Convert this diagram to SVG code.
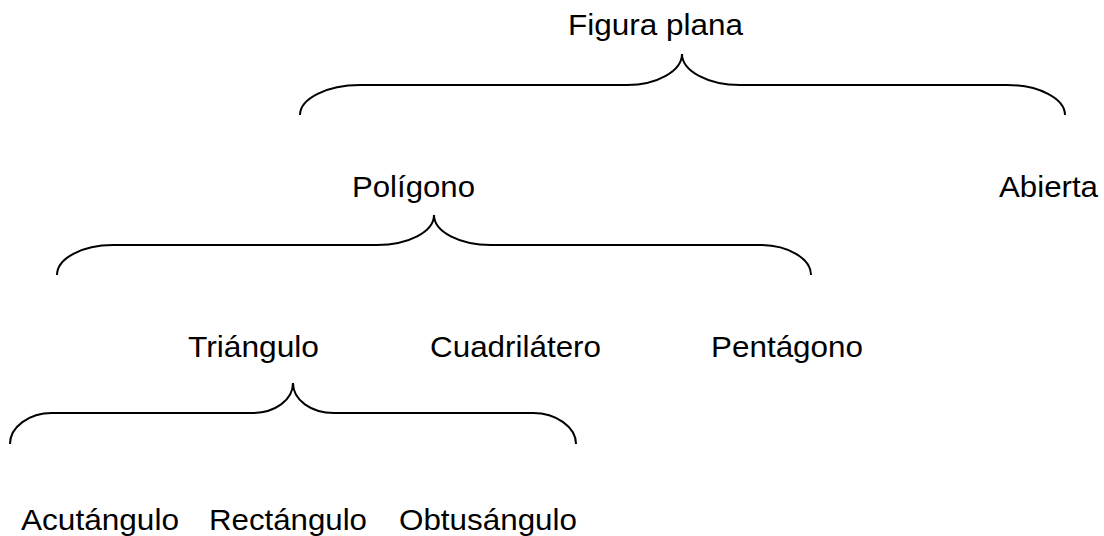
<svg xmlns="http://www.w3.org/2000/svg" width="1104" height="536" viewBox="0 0 1104 536">
  <style>
    .label { font-family: "Liberation Sans", Arial, sans-serif; font-size: 30px; fill: #000; }
    .brace { fill: none; stroke: #000; stroke-width: 2; }
  </style>
  <rect width="1104" height="536" fill="#fff"/>

  <!-- curly braces joining each parent to its children -->
  <g id="connectors">
    <path class="brace" d="M300,115 C300,98.5 327,85 360,85 L627,85 C657,85 682,71 682,54 C682,71 708,85 740,85 L1007,85 C1039,85 1065,98.5 1065,115"/>
    <path class="brace" d="M57,275 C57,258.5 82,245 113,245 L377,245 C408,245 434,232 434,215 C434,232 460,245 491,245 L760,245 C788,245 811,258.5 811,275"/>
    <path class="brace" d="M10,444 C10,427 29,413 52,413 L252,413 C275,413 293,400 293,383 C293,400 311,413 334,413 L533,413 C556,413 576,427 576,444"/>
  </g>

  <g id="figura-plana"><text class="label" x="568" y="35" textLength="175" lengthAdjust="spacingAndGlyphs">Figura plana</text></g>
  <g id="poligono"><text class="label" x="352" y="197" textLength="123" lengthAdjust="spacingAndGlyphs">Polígono</text></g>
  <g id="abierta"><text class="label" x="999" y="197" textLength="99" lengthAdjust="spacingAndGlyphs">Abierta</text></g>
  <g id="triangulo"><text class="label" x="188" y="357" textLength="131" lengthAdjust="spacingAndGlyphs">Triángulo</text></g>
  <g id="cuadrilatero"><text class="label" x="430" y="357" textLength="171" lengthAdjust="spacingAndGlyphs">Cuadrilátero</text></g>
  <g id="pentagono"><text class="label" x="711" y="357" textLength="152" lengthAdjust="spacingAndGlyphs">Pentágono</text></g>
  <g id="acutangulo"><text class="label" x="21" y="530" textLength="158" lengthAdjust="spacingAndGlyphs">Acutángulo</text></g>
  <g id="rectangulo"><text class="label" x="209" y="530" textLength="158" lengthAdjust="spacingAndGlyphs">Rectángulo</text></g>
  <g id="obtusangulo"><text class="label" x="399" y="530" textLength="178" lengthAdjust="spacingAndGlyphs">Obtusángulo</text></g>
</svg>
